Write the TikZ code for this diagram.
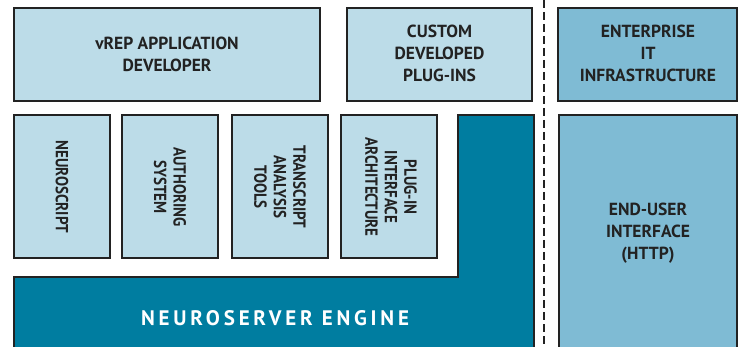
\documentclass[tikz,border=0pt]{standalone}
\usepackage{fontspec}
\setmainfont{PT Sans}
\definecolor{lightb}{HTML}{BCDCE8}
\definecolor{midb}{HTML}{7FBBD4}
\definecolor{darkb}{HTML}{007DA0}
\definecolor{edge}{HTML}{222222}
\begin{document}
\begin{tikzpicture}[x=1pt,y=-1pt,
  boxst/.style={draw=edge,line width=2pt},
  lbl/.style={font=\fontsize{17.5}{22}\selectfont\bfseries,text=edge,align=center,inner sep=0pt},
  vlbl/.style={lbl,rotate=-90,font=\fontsize{17.5}{19.5}\selectfont\bfseries\addfontfeatures{FakeStretch=0.86}}]
\useasboundingbox (0,0) rectangle (741,347);
\begin{scope}
\clip (0,0) rectangle (741,347);
% top row
\draw[boxst,fill=lightb] (14,8) rectangle (320,101);
\draw[boxst,fill=lightb] (347,8) rectangle (532,101);
\draw[boxst,fill=midb] (558,8) rectangle (737,101);
% middle row
\draw[boxst,fill=lightb] (14,115) rectangle (110,258);
\draw[boxst,fill=lightb] (122,115) rectangle (218,258);
\draw[boxst,fill=lightb] (232,115) rectangle (328,258);
\draw[boxst,fill=lightb] (341,115) rectangle (437,258);
% engine
\draw[boxst,fill=darkb] (14,360) -- (14,277) -- (458,277) -- (458,115) -- (534,115) -- (534,360) -- cycle;
% end user
\draw[boxst,fill=midb] (559,115) rectangle (737,360);
% dashed separator
\draw[edge,line width=2.6pt,dash pattern=on 8pt off 4pt] (544,0) -- (544,350);
\end{scope}
\node[lbl] (vrep) at (167,54) {vREP APPLICATION\\DEVELOPER};
\node[lbl] (custom) at (439.5,53) {CUSTOM\\DEVELOPED\\PLUG-INS};
\node[lbl] (ent) at (648,53) {ENTERPRISE\\IT\\INFRASTRUCTURE};
\node[vlbl] (ns) at (62,187) {NEUROSCRIPT};
\node[vlbl] (auth) at (170,187) {AUTHORING\\SYSTEM};
\node[vlbl] (trans) at (280,187) {TRANSCRIPT\\ANALYSIS\\TOOLS};
\node[vlbl] (plug) at (391,187) {PLUG-IN\\INTERFACE\\ARCHITECTURE};
\node[lbl] (eu) at (648,233) {END-USER\\INTERFACE\\(HTTP)};
\node[lbl,text=white,font=\fontsize{21}{24}\selectfont\bfseries\addfontfeatures{LetterSpace=18}] (eng) at (275,318) {NEUROSERVER ENGINE};
\end{tikzpicture}
\end{document}
